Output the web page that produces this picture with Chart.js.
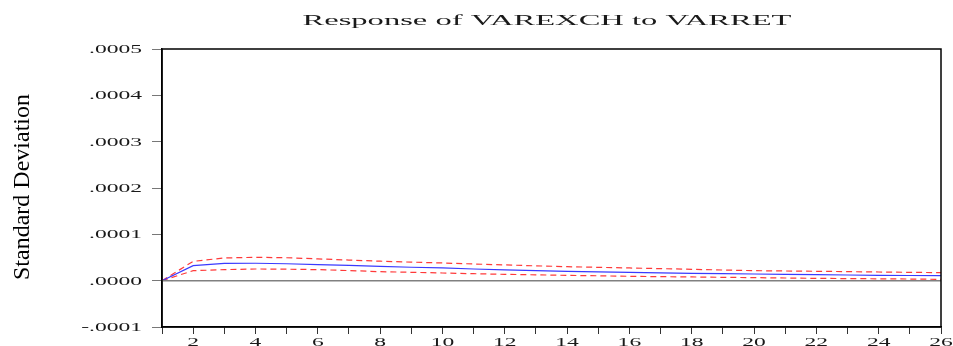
<!DOCTYPE html>
<html lang="en">
<head>
    <meta charset="UTF-8">
    <title>Response of VAREXCH to VARRET</title>
    <style>
        body { margin: 0; background: #fff; }
        #chart { display: block; }
    </style>
</head>
<body>
    <canvas id="chart" width="953" height="346"></canvas>

    <script src="https://cdn.jsdelivr.net/npm/chart.js@4.4.0/dist/chart.umd.js"></script>
    <script>
        // Periods and impulse response values
        const periods = [1,2,3,4,5,6,7,8,9,10,11,12,13,14,15,16,17,18,19,20,21,22,23,24,25,26];
        const response = [0, 0.0000324, 0.0000374, 0.0000376, 0.0000365, 0.0000348, 0.0000330, 0.0000310,
            0.0000290, 0.0000274, 0.0000252, 0.0000231, 0.0000215, 0.0000200, 0.0000190, 0.0000180,
            0.0000168, 0.0000158, 0.0000150, 0.0000144, 0.0000137, 0.0000130, 0.0000122, 0.0000115,
            0.0000111, 0.0000108];
        const upperBand = [0, 0.0000417, 0.0000490, 0.0000504, 0.0000495, 0.0000470, 0.0000445, 0.0000420,
            0.0000400, 0.0000382, 0.0000360, 0.0000340, 0.0000320, 0.0000302, 0.0000288, 0.0000274,
            0.0000260, 0.0000245, 0.0000230, 0.0000216, 0.0000209, 0.0000202, 0.0000195, 0.0000187,
            0.0000180, 0.0000173];
        const lowerBand = [0, 0.0000216, 0.0000238, 0.0000252, 0.0000248, 0.0000238, 0.0000218, 0.0000194,
            0.0000180, 0.0000166, 0.0000150, 0.0000137, 0.0000126, 0.0000115, 0.0000105, 0.0000094,
            0.0000087, 0.0000080, 0.0000072, 0.0000065, 0.0000058, 0.0000050, 0.0000045, 0.0000040,
            0.0000035, 0.0000029];
        const yTicks = [-0.0001, 0, 0.0001, 0.0002, 0.0003, 0.0004, 0.0005];

        const titleText = 'Response of VAREXCH to VARRET';
        const yTitle = 'Standard Deviation';
        const serif = '"Liberation Serif", "Times New Roman", serif';

        function fmtTick(v) {
            const s = (Math.round(v * 10000) / 10000).toFixed(4);
            return s.replace('0.', '.');
        }

        // draw text squeezed wide like the original export
        function wideText(ctx, text, x, y, align, sx) {
            ctx.save();
            ctx.translate(x, y);
            ctx.scale(sx, 1);
            ctx.textAlign = align;
            ctx.fillText(text, 0, 0);
            ctx.restore();
        }

        const decorations = {
            id: 'decorations',
            afterDatasetsDraw(chart) {
                const { ctx, chartArea: a, scales } = chart;
                // zero line
                const y0 = scales.y.getPixelForValue(0);
                ctx.save();
                ctx.strokeStyle = '#808080';
                ctx.lineWidth = 1.5;
                ctx.beginPath();
                ctx.moveTo(a.left, y0);
                ctx.lineTo(a.right, y0);
                ctx.stroke();
                ctx.restore();
            },
            afterDraw(chart) {
                const { ctx, chartArea: a, scales } = chart;
                ctx.save();
                // frame
                ctx.strokeStyle = '#000';
                ctx.lineWidth = 1.5;
                ctx.strokeRect(a.left, a.top, a.right - a.left, a.bottom - a.top);

                ctx.fillStyle = '#1a1a1a';
                ctx.textBaseline = 'alphabetic';

                // title
                ctx.font = '15px ' + serif;
                const tw = ctx.measureText(titleText).width;
                wideText(ctx, titleText, 547, 25, 'center', 489 / tw);

                // y tick labels
                ctx.font = '12px ' + serif;
                const sxTick = 53 / ctx.measureText('.0005').width;
                ctx.textBaseline = 'middle';
                yTicks.forEach(v => {
                    wideText(ctx, fmtTick(v), 142, scales.y.getPixelForValue(v) + 1, 'right', sxTick);
                });

                // x tick labels, even periods only
                ctx.textBaseline = 'alphabetic';
                periods.forEach((p, i) => {
                    if (p % 2 !== 0) return;
                    wideText(ctx, String(p), scales.x.getPixelForValue(i), 346, 'center', sxTick);
                });

                // y axis title
                ctx.font = '24px ' + serif;
                ctx.translate(29, 187);
                ctx.rotate(-Math.PI / 2);
                ctx.textAlign = 'center';
                ctx.fillStyle = '#000';
                ctx.fillText(yTitle, 0, 0);
                ctx.restore();
            }
        };

        new Chart(document.getElementById('chart').getContext('2d'), {
            type: 'line',
            data: {
                labels: periods,
                datasets: [
                    {
                        label: 'Response',
                        data: response,
                        borderColor: '#3a3aff',
                        borderWidth: 1.2,
                        pointRadius: 0,
                        tension: 0,
                        fill: false
                    },
                    {
                        label: 'Upper',
                        data: upperBand,
                        borderColor: '#ff3a3a',
                        borderWidth: 1.2,
                        borderDash: [6, 4],
                        pointRadius: 0,
                        tension: 0,
                        fill: false
                    },
                    {
                        label: 'Lower',
                        data: lowerBand,
                        borderColor: '#ff3a3a',
                        borderWidth: 1.2,
                        borderDash: [6, 4],
                        pointRadius: 0,
                        tension: 0,
                        fill: false
                    }
                ]
            },
            options: {
                responsive: false,
                animation: false,
                devicePixelRatio: 1,
                layout: { padding: { top: 49, right: 12, bottom: 0, left: 0 } },
                plugins: {
                    legend: { display: false },
                    tooltip: { enabled: false },
                    title: { display: false }
                },
                scales: {
                    x: {
                        type: 'category',
                        offset: false,
                        grid: { offset: false, drawOnChartArea: false, drawTicks: true, tickLength: 7, color: '#333' },
                        border: { display: true, color: '#000', width: 1.5 },
                        ticks: { display: false },
                        afterFit(scale) { scale.height = 19; }
                    },
                    y: {
                        min: -0.0001,
                        max: 0.0005,
                        grid: { drawOnChartArea: false, drawTicks: true, tickLength: 10, color: '#777' },
                        border: { display: true, color: '#000', width: 1.5 },
                        ticks: { display: false, stepSize: 0.0001 },
                        afterFit(scale) { scale.height; scale.width = 162; }
                    }
                }
            },
            plugins: [decorations]
        });
    </script>
</body>
</html>
